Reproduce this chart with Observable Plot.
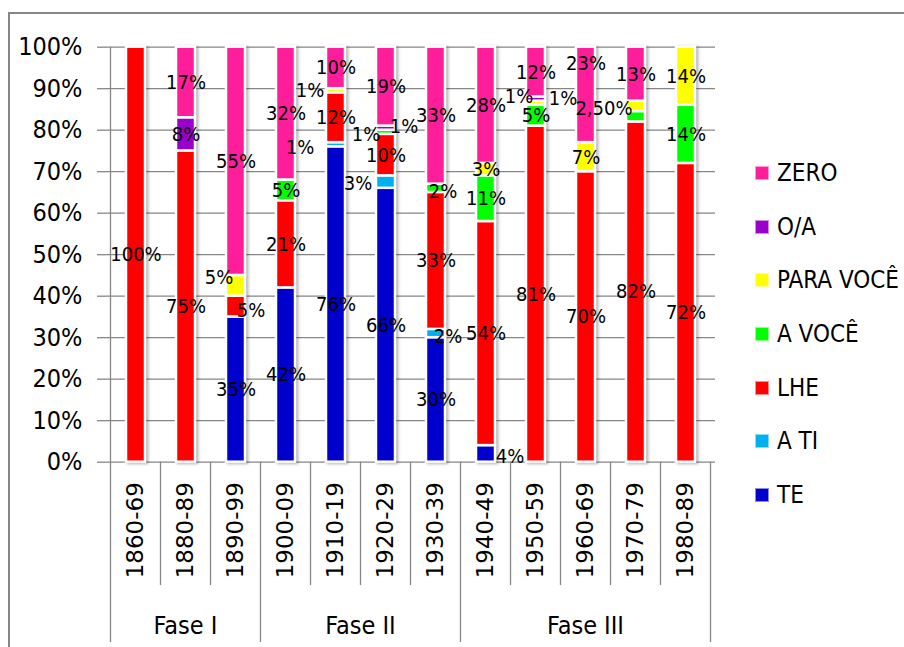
<!DOCTYPE html>
<html>
<head>
<meta charset="utf-8">
<script src="https://cdn.jsdelivr.net/npm/d3@7"></script>
<script src="https://cdn.jsdelivr.net/npm/@observablehq/plot@0.6"></script>
<style>
  html, body { margin: 0; padding: 0; background: #fff; overflow: hidden; }
  #wrap { position: relative; width: 904px; height: 647px; overflow: hidden; }
  #border { position: absolute; left: 8px; top: 12px; width: 1000px; height: 1000px; border: 2px solid #868686; box-sizing: border-box; pointer-events: none; }
  #legend { position: absolute; left: 755px; top: 146.5px; font-family: "Liberation Sans Narrow", "DejaVu Sans Condensed", "Roboto Condensed", sans-serif; font-size: 24px; color: #000; }
  .item { display: flex; align-items: center; height: 53.6px; }
  .sw { width: 12px; height: 12px; margin-right: 8px; box-sizing: content-box; }
</style>
</head>
<body>
<div id="wrap">
  <div id="chart"></div>
  <div id="legend"></div>
  <div id="border"></div>
</div>
<script>
const categories = ["1860-69","1880-89","1890-99","1900-09","1910-19","1920-29","1930-39","1940-49","1950-59","1960-69","1970-79","1980-89"];
// stack order, bottom to top
const series = ["TE","A TI","LHE","A VOCÊ","PARA VOCÊ","O/A","ZERO"];
const TE        = [0, 0, 35, 42, 76, 66, 30, 4, 0, 0, 0, 0];
const A_TI      = [0, 0, 0, 0, 1, 3, 2, 0, 0, 0, 0, 0];
const LHE       = [100, 75, 5, 21, 12, 10, 33, 54, 81, 70, 82, 72];
const A_VOCE    = [0, 0, 0, 5, 0, 1, 2, 11, 5, 0, 2.5, 14];
const PARA_VOCE = [0, 0, 5, 0, 1, 0, 0, 3, 1, 7, 2.5, 14];
const O_A       = [0, 8, 0, 0, 0, 1, 0, 0, 1, 0, 0, 0];
const ZERO      = [0, 17, 55, 32, 10, 19, 33, 28, 12, 23, 13, 0];
const seriesValues = [TE, A_TI, LHE, A_VOCE, PARA_VOCE, O_A, ZERO];
const phases = [
  {name: "Fase I", from: "1860-69", to: "1890-99"},
  {name: "Fase II", from: "1900-09", to: "1930-39"},
  {name: "Fase III", from: "1940-49", to: "1980-89"}
];
const colors = ["#0000CC","#00B0F0","#FF0000","#00FF00","#FFFF00","#9900CC","#FF1E9A"];
const legendOrder = ["ZERO","O/A","PARA VOCÊ","A VOCÊ","LHE","A TI","TE"];

// label placement tweaks (px) for small segments, as in the reference
const labelNudge = {
  "1890-99|PARA VOCÊ": [-17, -8],
  "1890-99|LHE": [15, 4],
  "1910-19|A TI": [-36, 3],
  "1910-19|PARA VOCÊ": [-26, 0],
  "1920-29|A VOCÊ": [-20, 2],
  "1920-29|O/A": [18, -2],
  "1920-29|A TI": [-28, 2],
  "1930-39|A VOCÊ": [7, 3],
  "1930-39|A TI": [12, 3],
  "1940-49|TE": [24, 3],
  "1950-59|O/A": [-17, -2],
  "1950-59|PARA VOCÊ": [27, -5],
  "1960-69|ZERO": [0, -31],
  "1970-79|PARA VOCÊ": [-32, 2]
};
const hiddenLabels = ["1970-79|A VOCÊ"];

const narrow = '"Liberation Sans Narrow", "DejaVu Sans Condensed", "Roboto Condensed", sans-serif';

const rows = [];
categories.forEach((cat, i) => {
  let cum = 0;
  series.forEach((s, j) => {
    const v = seriesValues[j][i];
    if (v > 0) {
      rows.push({cat, series: s, value: v / 100, mid: (cum + v / 2) / 100,
        label: Number.isInteger(v) ? v + "%" : v.toFixed(2).replace(".", ",") + "%",
        key: cat + "|" + s});
    }
    cum += v;
  });
});
const visible = rows.filter(d => !hiddenLabels.includes(d.key));
const plain = visible.filter(d => !(d.key in labelNudge));
const nudged = visible.filter(d => d.key in labelNudge);

const textOpts = {x: "cat", y: "mid", text: "label", fontSize: 20, fontFamily: narrow, fill: "#000"};

const chart = Plot.plot({
  width: 904, height: 647,
  marginLeft: 106, marginRight: 189, marginTop: 46.7, marginBottom: 185.3,
  style: {color: "#000", background: "transparent"},
  x: {domain: categories, paddingInner: 0.62, paddingOuter: 0.31, label: null},
  y: {domain: [0, 1], label: null},
  color: {domain: series, range: colors},
  marks: [
    Plot.gridY({ticks: 10, stroke: "#868686", strokeOpacity: 1, strokeWidth: 1.3}),
    Plot.barY(rows, {x: "cat", y: "value", fill: "series", order: series, stroke: "white", strokeWidth: 2.5}),
    Plot.axisY({ticks: 10, tickFormat: d3.format(".0%"), tickSize: 9, tickPadding: 15, fontSize: 25, fontFamily: narrow, stroke: "#868686", strokeWidth: 1.3, label: null}),
    Plot.axisX({tickRotate: -90, tickSize: 0, tickPadding: 20, fontSize: 23, fontFamily: "DejaVu Sans", label: null}),
    Plot.text(plain, textOpts),
    ...nudged.map(d => Plot.text([d], {...textOpts, dx: labelNudge[d.key][0], dy: labelNudge[d.key][1]}))
  ]
});

document.getElementById("chart").appendChild(chart);

// bar shadow
const barG = chart.querySelector('g[aria-label="bar"]');
if (barG) barG.style.filter = "drop-shadow(2px 1px 1.5px rgba(0,0,0,0.3))";

// category axis separators and phase labels
const xs = chart.scale("x"), ys = chart.scale("y");
const step = xs.step, bw = xs.bandwidth;
const y0 = ys.apply(0), y100 = ys.apply(1);
const svg = d3.select(chart);
const g = svg.append("g").attr("stroke", "#868686").attr("stroke-width", 1.3);
const left = c => xs.apply(c) + bw / 2 - step / 2;
const right = c => xs.apply(c) + bw / 2 + step / 2;
const phaseEdges = new Set();
phases.forEach(p => { phaseEdges.add(Math.round(left(p.from) * 10)); phaseEdges.add(Math.round(right(p.to) * 10)); });
const bounds = categories.map(left).concat([right(categories[categories.length - 1])]);
bounds.forEach(bx => {
  const isPhase = phaseEdges.has(Math.round(bx * 10));
  g.append("line").attr("x1", bx).attr("x2", bx)
    .attr("y1", isPhase && bx === bounds[0] ? y100 : y0)
    .attr("y2", isPhase ? 642 : 585);
});
svg.append("g").attr("font-family", narrow).attr("font-size", 25).attr("text-anchor", "middle")
  .selectAll("text").data(phases).join("text")
  .attr("x", p => (left(p.from) + right(p.to)) / 2)
  .attr("y", 625).attr("dy", "0.35em").text(p => p.name);

// legend
const leg = d3.select("#legend");
legendOrder.forEach(s => {
  const c = colors[series.indexOf(s)];
  const it = leg.append("div").attr("class", "item");
  it.append("div").attr("class", "sw").style("background", c)
    .style("border", "1.5px solid " + d3.interpolateRgb(c, "#fff")(0.55));
  it.append("span").text(s);
});
</script>
</body>
</html>
